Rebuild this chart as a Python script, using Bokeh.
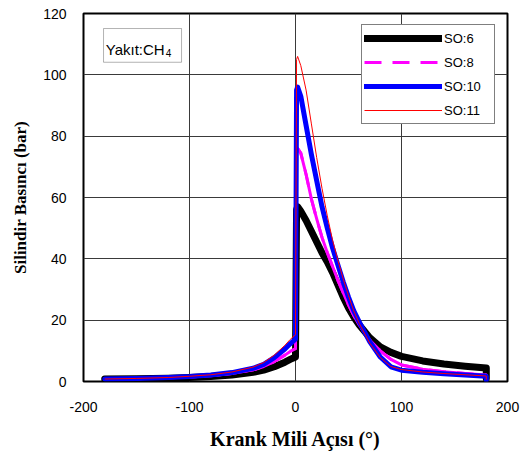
from bokeh.plotting import figure
from bokeh.models import Legend, LegendItem, BoxAnnotation, Label, Range1d, FixedTicker
from bokeh.embed import file_html
from bokeh.resources import INLINE

# Crank angle (deg)
theta = [-180, -150, -120, -100, -80, -60, -40, -30, -20, -10, -5, 0, 1, 2, 5, 10, 15, 20,
         25, 30, 35, 40, 45, 50, 55, 60, 70, 80, 90, 100, 120, 140, 160, 180, 180]

so6 = [0.8, 0.9, 1.1, 1.3, 1.6, 2.1, 3.0, 3.7, 4.8, 6.3, 7.2, 8.0, 56, 57, 55.5, 52.5, 49, 45.5,
       42, 39, 35.5, 31.5, 27.5, 24, 21, 18.5, 14.3, 11.3, 9.5, 8.2, 6.7, 5.7, 5.0, 4.4, 1.0]
so8 = [0.8, 0.9, 1.2, 1.5, 1.9, 2.6, 3.8, 4.9, 6.5, 8.6, 9.8, 10.7, 75, 76, 74.5, 67.5, 59.5, 53,
       47, 42, 37.5, 33, 29, 25, 21.5, 18.5, 13.5, 10, 7.2, 5.4, 4.0, 3.2, 2.6, 2.1, 0.8]
so10 = [0.8, 1.0, 1.3, 1.6, 2.1, 2.9, 4.3, 5.6, 7.8, 10.6, 12.3, 13.8, 95, 96, 93, 83.5, 74, 65.5,
        57, 50, 43.5, 38, 32.5, 27.5, 23, 19.5, 13, 8, 4.8, 3.7, 3.0, 2.5, 2.1, 1.7, 0.5]
so11 = [0.8, 1.0, 1.3, 1.7, 2.2, 3.1, 4.7, 6.2, 8.6, 11.8, 13.7, 15.3, 105, 106, 103, 95, 84, 73,
        63, 54, 46, 39.5, 33.5, 28, 23, 19, 12.5, 7.8, 4.9, 3.9, 3.1, 2.6, 2.2, 1.8, 0.6]

labels = ["SO:6", "SO:8", "SO:10", "SO:11"]
x_ticks = [-200, -100, 0, 100, 200]
y_ticks = [0, 20, 40, 60, 80, 100, 120]

p = figure(width=520, height=452, output_backend="svg", toolbar_location=None,
           x_range=Range1d(-200, 200), y_range=Range1d(0, 120),
           min_border_left=83, min_border_right=13, min_border_top=13, min_border_bottom=68)

p.outline_line_color = "black"
p.outline_line_width = 2
p.background_fill_color = "white"

for ax in (p.xaxis[0], p.yaxis[0]):
    ax.axis_line_color = None
    ax.major_tick_line_color = None
    ax.minor_tick_line_color = None
    ax.major_label_text_font = "Liberation Sans"
    ax.major_label_text_font_size = "14px"
    ax.major_label_text_color = "black"
    ax.axis_label_text_font = "Liberation Serif"
    ax.axis_label_text_font_style = "bold"
    ax.axis_label_text_color = "black"

p.xaxis.axis_label_text_font_size = "20px"
p.yaxis.axis_label_text_font_size = "17px"
p.xaxis.ticker = FixedTicker(ticks=x_ticks)
p.yaxis.ticker = FixedTicker(ticks=y_ticks)
p.xaxis.major_label_overrides = {t: str(t) for t in x_ticks}
p.xaxis.major_label_standoff = 14
p.yaxis.major_label_standoff = 11
p.xaxis.axis_label = "Krank Mili Açısı (°)"
p.yaxis.axis_label = "Silindir Basıncı (bar)"
p.xaxis.axis_label_standoff = 13
p.yaxis.axis_label_standoff = 10

p.xgrid.ticker = FixedTicker(ticks=[-100, 0, 100])
p.ygrid.ticker = FixedTicker(ticks=[20, 40, 60, 80, 100])
p.grid.grid_line_color = "#3a3a3a"
p.grid.grid_line_width = 1

r6 = p.line(theta, so6, line_color="black", line_width=7, line_cap="round", line_join="round")
r8 = p.line(theta, so8, line_color="#FF00FF", line_width=3, line_cap="round", line_join="round")
r8d = p.line(theta, so8, line_color="#FF00FF", line_width=3, line_dash="17 11")
r10 = p.line(theta, so10, line_color="#0000FF", line_width=5, line_cap="round", line_join="round")
r11 = p.line(theta, so11, line_color="#FF0000", line_width=1)

legend = Legend(items=[LegendItem(label=labels[0], renderers=[r6]),
                       LegendItem(label=labels[1], renderers=[r8d]),
                       LegendItem(label=labels[2], renderers=[r10]),
                       LegendItem(label=labels[3], renderers=[r11])],
                location=(278, 257), margin=0, padding=2, spacing=2,
                glyph_width=78, glyph_height=22, label_height=22, label_width=48,
                label_standoff=2, label_text_font="Liberation Sans",
                label_text_font_size="13px", label_text_color="black",
                border_line_color="black", border_line_width=1,
                background_fill_color="white", background_fill_alpha=1.0)
p.add_layout(legend)

box = BoxAnnotation(left=-181.1, right=-107.5, bottom=104.1, top=115.1,
                    fill_color="white", fill_alpha=1.0, line_color="black", line_width=1)
p.add_layout(box)
p.add_layout(Label(x=-179, y=108.3, text="Yakıt:CH", text_font="Liberation Sans",
                   text_font_size="15px", text_color="black", text_baseline="alphabetic"))
p.add_layout(Label(x=-179, y=108.3, x_offset=60, y_offset=-4, text="4",
                   text_font="Liberation Sans", text_font_size="10px", text_color="black",
                   text_baseline="alphabetic"))

open("out.html", "w").write(file_html(p, INLINE))
